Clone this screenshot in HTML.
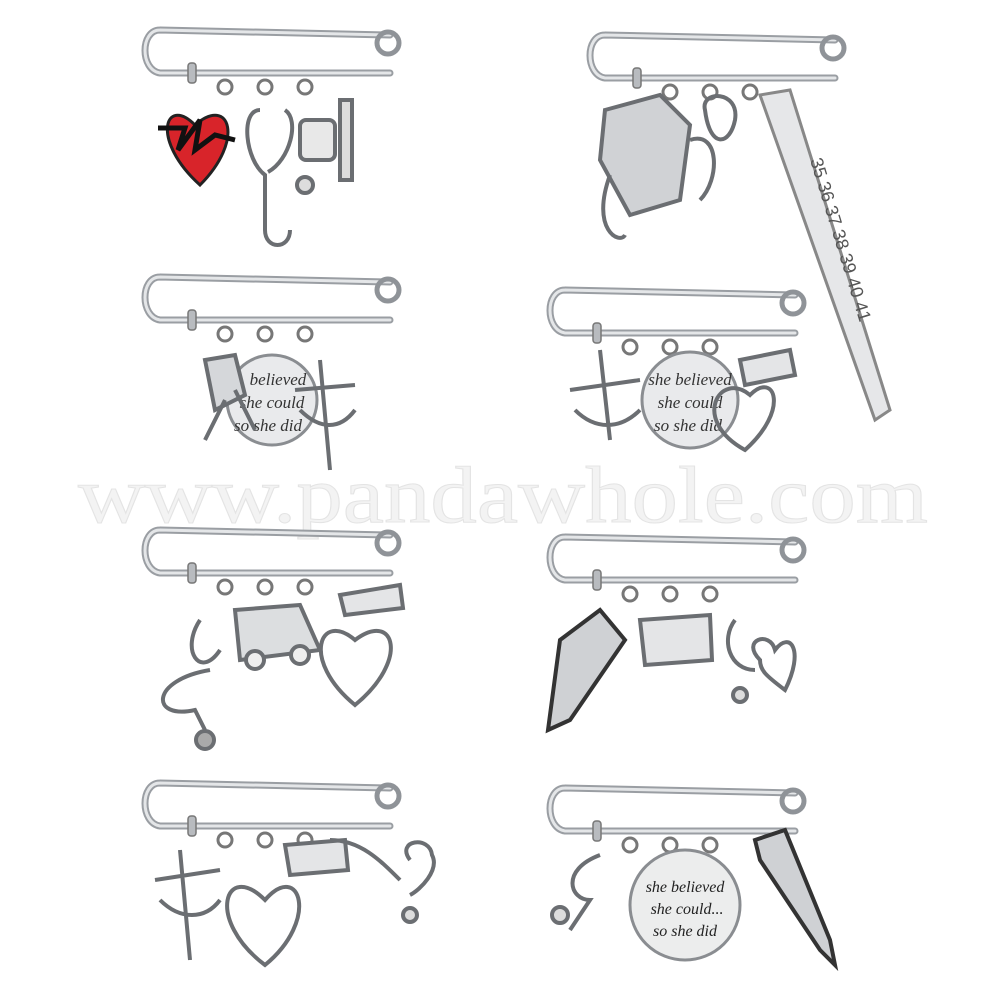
<!DOCTYPE html>
<html><head><meta charset="utf-8"><style>
html,body{margin:0;padding:0;background:#fff;width:1000px;height:1000px;overflow:hidden}
svg{display:block}
</style></head><body>
<svg width="1000" height="1000" viewBox="0 0 1000 1000" xmlns="http://www.w3.org/2000/svg">
<defs>
<g id="pin">
  <path d="M20,5 L250,10 M20,5 C0,5 0,45 20,48 L250,48" fill="none" stroke="#9a9ea3" stroke-width="7" stroke-linecap="round"/>
  <path d="M20,5 L250,10 M20,5 C0,5 0,45 20,48 L250,48" fill="none" stroke="#e4e6e8" stroke-width="3" stroke-linecap="round"/>
  <circle cx="248" cy="18" r="11" fill="none" stroke="#8f9398" stroke-width="5"/>
  <rect x="48" y="38" width="8" height="20" rx="3" fill="#b8bbbf" stroke="#777" stroke-width="1.5"/>
  <circle cx="85" cy="62" r="7" fill="none" stroke="#777" stroke-width="3"/>
  <circle cx="125" cy="62" r="7" fill="none" stroke="#777" stroke-width="3"/>
  <circle cx="165" cy="62" r="7" fill="none" stroke="#777" stroke-width="3"/>
</g>
</defs>

<!-- watermark -->
<text x="78" y="522" textLength="850" lengthAdjust="spacingAndGlyphs" font-family="Liberation Serif, serif" font-size="80" fill="#f3f3f3" stroke="#e4e4e4" stroke-width="1">www.pandawhole.com</text>

<!-- pins -->
<use href="#pin" x="140" y="25"/>
<use href="#pin" x="140" y="272"/>
<use href="#pin" x="140" y="525"/>
<use href="#pin" x="140" y="778"/>
<use href="#pin" x="585" y="30"/>
<use href="#pin" x="545" y="285"/>
<use href="#pin" x="545" y="532"/>
<use href="#pin" x="545" y="783"/>

<g fill="none" stroke="#6b6e72" stroke-width="4">
<path d="M195,125 C165,95 150,140 200,185 C245,140 230,95 195,125Z" fill="#d8242a" stroke="#222" stroke-width="3"/>
<path d="M158,128 L185,128 L178,150 L200,120 L195,150 L215,135 L235,140" stroke="#111" stroke-width="5"/>
<path d="M260,110 C240,110 245,160 265,175 L265,230 C265,250 290,250 290,230 M285,110 C300,120 290,160 268,172"/>
<circle cx="305" cy="185" r="8" fill="#ddd"/>
<rect x="300" y="120" width="35" height="40" rx="6" fill="#e8e8e8"/>
<rect x="340" y="100" width="12" height="80" fill="#ddd"/>
<path d="M605,110 L660,95 L690,125 L680,200 L630,215 L600,160Z" fill="#d0d2d5"/>
<path d="M610,175 C590,230 620,245 625,235 M690,140 C720,130 720,180 700,200"/>
<path d="M705,110 C700,90 740,90 735,120 C730,145 710,150 705,110Z"/>
<path d="M760,95 L790,90 L890,410 L875,420Z" fill="#e6e7e9" stroke="#888" stroke-width="3"/>
<text transform="translate(810,160) rotate(73)" font-family="Liberation Sans,sans-serif" font-size="18" fill="#555" stroke="none">35 36 37 38 39 40 41</text>
<circle cx="272" cy="400" r="45" fill="#e9eaec" stroke="#8a8d91" stroke-width="3"/>
<text font-family="Liberation Serif,serif" font-style="italic" font-size="17" fill="#333" stroke="none" text-anchor="middle"><tspan x="278" y="385">believed</tspan><tspan x="272" y="408">she could</tspan><tspan x="268" y="431">so she did</tspan></text>
<path d="M205,360 L235,355 L245,395 L215,410Z" fill="#d5d7da"/>
<path d="M225,400 L205,440 M235,390 L255,430"/>
<path d="M320,360 L330,470 M295,390 L355,385 M300,410 C320,430 340,430 355,410"/>
<circle cx="690" cy="400" r="48" fill="#e9eaec" stroke="#8a8d91" stroke-width="3"/>
<text font-family="Liberation Serif,serif" font-style="italic" font-size="17" fill="#333" stroke="none" text-anchor="middle"><tspan x="690" y="385">she believed</tspan><tspan x="690" y="408">she could</tspan><tspan x="688" y="431">so she did</tspan></text>
<path d="M600,350 L610,440 M570,390 L640,380 M575,410 C595,430 620,430 640,410"/>
<path d="M740,360 L790,350 L795,375 L745,385Z" fill="#e4e5e7"/>
<path d="M750,395 C720,370 690,420 745,450 C790,410 775,370 750,395Z"/>
<path d="M235,610 L300,605 L320,650 L240,660Z" fill="#dcdee0"/>
<circle cx="255" cy="660" r="9" fill="#eee"/><circle cx="300" cy="655" r="9" fill="#eee"/>
<path d="M200,620 C180,650 200,680 220,650 M210,670 C150,680 150,720 195,710 L205,730"/>
<circle cx="205" cy="740" r="9" fill="#aaa"/>
<path d="M340,595 L400,585 L403,608 L345,615Z" fill="#e4e5e7"/>
<path d="M355,640 C320,610 300,660 355,705 C410,660 395,610 355,640Z"/>
<path d="M560,640 L600,610 L625,640 L570,720 L548,730Z" fill="#cfd1d4" stroke="#333"/>
<path d="M640,620 L710,615 L712,660 L645,665Z" fill="#e4e5e7"/>
<path d="M735,620 C720,640 730,670 755,670 M760,660 C740,640 770,630 775,650 C790,630 805,650 785,690 C765,675 760,670 760,660Z"/>
<circle cx="740" cy="695" r="7" fill="#ddd"/>
<path d="M180,850 L190,960 M155,880 L220,870 M160,900 C180,920 205,920 220,900" />
<path d="M265,900 C225,860 205,920 265,965 C320,920 300,860 265,900Z"/>
<path d="M285,845 L345,840 L348,870 L290,875Z" fill="#e4e5e7"/>
<path d="M330,840 C360,840 380,860 400,880 M410,860 C395,840 430,835 432,855 C440,870 420,890 410,895"/>
<circle cx="410" cy="915" r="7" fill="#ddd"/>
<path d="M600,855 C560,870 570,900 590,900 L570,930" />
<circle cx="560" cy="915" r="8" fill="#ddd"/>
<circle cx="685" cy="905" r="55" fill="#eceded" stroke="#8a8d91" stroke-width="3"/>
<text font-family="Liberation Serif,serif" font-style="italic" font-size="16" fill="#222" stroke="none" text-anchor="middle"><tspan x="685" y="892">she believed</tspan><tspan x="687" y="914">she could...</tspan><tspan x="685" y="936">so she did</tspan></text>
<path d="M755,840 L785,830 L830,940 L835,965 L820,950 L760,860Z" fill="#cfd1d4" stroke="#333"/>
</g>
</svg>
</body></html>
